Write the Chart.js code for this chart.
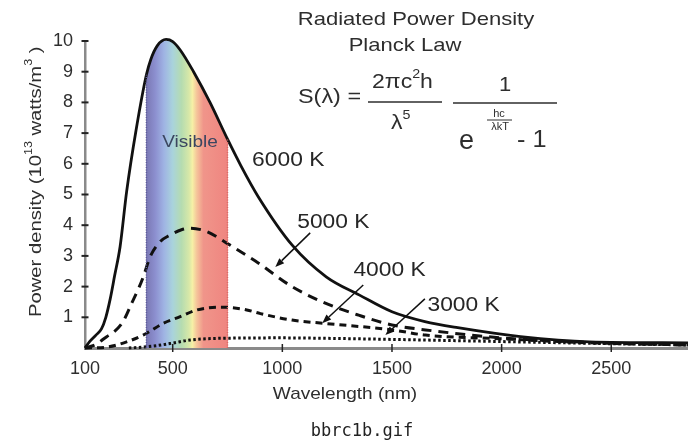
<!DOCTYPE html>
<html>
<head>
<meta charset="utf-8">
<script src="https://cdn.jsdelivr.net/npm/chart.js@4.4.1/dist/chart.umd.min.js"></script>
<style>
  html, body { margin: 0; padding: 0; background: #fff; }
  #wrap { width: 688px; height: 448px; }
</style>
</head>
<body>
<div id="wrap"><canvas id="chart" width="688" height="448"></canvas></div>
<script>
// Wavelength (nm) / power density (10^13 W/m^3)
const wl6000 = [100, 120, 150, 175, 195, 215, 235, 260, 290, 333, 380, 400, 430, 470, 500, 535, 595, 670, 750, 810, 890, 1045, 1200, 1350, 1500, 1650, 1800, 2086, 2400, 2850];
const pw6000 = [0, 0.2, 0.42, 0.62, 1.0, 1.6, 2.35, 3.3, 5.1, 7.1, 8.9, 9.4, 9.85, 10.05, 9.98, 9.7, 9.0, 8.0, 6.8, 5.95, 4.93, 3.35, 2.32, 1.73, 1.18, 0.86, 0.66, 0.37, 0.2, 0.17];

const wl5000 = [100, 150, 199, 228, 275, 313, 345, 366, 397, 442, 488, 540, 580, 656, 750, 840, 890, 1044, 1196, 1348, 1500, 1653, 2000, 2400, 2850];
const pw5000 = [0, 0.12, 0.37, 0.5, 0.88, 1.46, 1.95, 2.32, 2.97, 3.46, 3.68, 3.85, 3.9, 3.79, 3.4, 3.0, 2.77, 2.0, 1.46, 1.07, 0.75, 0.59, 0.33, 0.18, 0.1];

const wl4000 = [100, 200, 290, 365, 397, 456, 534, 610, 716, 760, 838, 900, 1044, 1196, 1500, 1653, 2000, 2400, 2850];
const pw4000 = [0, 0.03, 0.2, 0.42, 0.55, 0.8, 1.02, 1.24, 1.33, 1.32, 1.24, 1.12, 0.91, 0.8, 0.59, 0.42, 0.3, 0.17, 0.1];

const wl3000 = [300, 382, 450, 500, 580, 750, 1000, 1250, 1500, 2000, 2500, 2850];
const pw3000 = [0, 0.04, 0.1, 0.16, 0.26, 0.32, 0.33, 0.31, 0.28, 0.21, 0.14, 0.1];

const xTicks = [100, 500, 1000, 1500, 2000, 2500];
const yTicks = [1, 2, 3, 4, 5, 6, 7, 8, 9, 10];
const visibleRange = [380, 750];

const spectrumNm = [380, 420, 460, 500, 540, 575, 590, 610, 640, 750];
const spectrumColors = ['#7a78b4', '#8c8fcf', '#9fb3e3', '#a9d3dc', '#b5dcb0', '#d8e8a8', '#f6f0a6', '#f5c49a', '#f0958a', '#ef8580'];

const notes = [
  { text: '6000 K', x: 862, y: 6.12 },
  { text: '5000 K', x: 1068, y: 4.1, from: [1127, 3.75], to: [968, 2.64] },
  { text: '4000 K', x: 1324, y: 2.54, from: [1369, 2.05], to: [1182, 0.81] },
  { text: '3000 K', x: 1662, y: 1.40, from: [1650, 1.6], to: [1470, 0.42] },
];

const FONT = '"Liberation Sans", Arial, sans-serif';
const INK = '#2e2e2e';

const pts = (xs, ys) => xs.map((x, i) => ({ x, y: ys[i] }));

function spectrumFill(ctx) {
  const chart = ctx.chart;
  const area = chart.chartArea;
  if (!area) return 'transparent';
  const xs = chart.scales.x;
  const w = area.right - area.left;
  const pos = nm => (xs.getPixelForValue(nm) - area.left) / w;
  const g = chart.ctx.createLinearGradient(area.left, 0, area.right, 0);
  const p0 = pos(visibleRange[0]), p1 = pos(visibleRange[1]);
  g.addColorStop(0, 'rgba(255,255,255,0)');
  g.addColorStop(p0, 'rgba(255,255,255,0)');
  spectrumNm.forEach((nm, i) => g.addColorStop(pos(nm), spectrumColors[i]));
  g.addColorStop(Math.min(1, p1 + 0.0001), 'rgba(255,255,255,0)');
  g.addColorStop(1, 'rgba(255,255,255,0)');
  return g;
}

function text(ctx, s, x, y, size, opts = {}) {
  ctx.save();
  ctx.font = `${size}px ${opts.family || FONT}`;
  ctx.fillStyle = opts.color || INK;
  ctx.textBaseline = 'middle';
  const w = ctx.measureText(s).width * (opts.sx || 1);
  const left = opts.align === 'center' ? x - w / 2 : x;
  ctx.translate(left, y);
  ctx.scale(opts.sx || 1, 1);
  ctx.fillText(s, 0, 0);
  ctx.restore();
}

function hline(ctx, x1, x2, y, w) {
  ctx.save();
  ctx.strokeStyle = INK;
  ctx.lineWidth = w;
  ctx.beginPath();
  ctx.moveTo(x1, y);
  ctx.lineTo(x2, y);
  ctx.stroke();
  ctx.restore();
}

function arrow(ctx, x1, y1, x2, y2) {
  const a = Math.atan2(y2 - y1, x2 - x1);
  const L = 9, H = 3.5;
  ctx.save();
  ctx.strokeStyle = '#111';
  ctx.fillStyle = '#111';
  ctx.lineWidth = 1.5;
  ctx.beginPath();
  ctx.moveTo(x1, y1);
  ctx.lineTo(x2 - L * Math.cos(a), y2 - L * Math.sin(a));
  ctx.stroke();
  ctx.beginPath();
  ctx.moveTo(x2, y2);
  ctx.lineTo(x2 - L * Math.cos(a) + H * Math.sin(a), y2 - L * Math.sin(a) - H * Math.cos(a));
  ctx.lineTo(x2 - L * Math.cos(a) - H * Math.sin(a), y2 - L * Math.sin(a) + H * Math.cos(a));
  ctx.closePath();
  ctx.fill();
  ctx.restore();
}

// rich text run: [{t, sup}] drawn left to right from x
function runs(ctx, parts, x, y, size) {
  let cx = x;
  parts.forEach(p => {
    const s = p.sup ? size * 0.62 : size;
    ctx.font = `${s}px ${FONT}`;
    ctx.fillText(p.t, cx, p.sup ? y - size * 0.38 : y);
    cx += ctx.measureText(p.t).width;
  });
  return cx - x;
}

const decor = {
  id: 'decor',
  afterDatasetsDraw(chart) {
    const { ctx, scales: { x, y } } = chart;

    // dotted edges of the visible band
    visibleRange.forEach((nm, i) => {
      const top = pw6000[wl6000.indexOf(nm)];
      ctx.save();
      ctx.strokeStyle = i === 0 ? '#5e5c98' : '#d76a66';
      ctx.lineWidth = 1.5;
      ctx.setLineDash([1, 1.5]);
      ctx.beginPath();
      ctx.moveTo(x.getPixelForValue(nm), y.getPixelForValue(0));
      ctx.lineTo(x.getPixelForValue(nm), y.getPixelForValue(top));
      ctx.stroke();
      ctx.restore();
    });

    text(ctx, 'Visible', x.getPixelForValue(579), y.getPixelForValue(6.71), 17, { align: 'center', color: '#3b4660', sx: 1.12 });

    notes.forEach(n => {
      text(ctx, n.text, x.getPixelForValue(n.x), y.getPixelForValue(n.y), 20, { color: '#262626', sx: 1.14 });
      if (n.from) {
        arrow(ctx, x.getPixelForValue(n.from[0]), y.getPixelForValue(n.from[1]),
          x.getPixelForValue(n.to[0]), y.getPixelForValue(n.to[1]));
      }
    });

    // tick marks crossing the axes
    ctx.save();
    ctx.strokeStyle = '#222';
    ctx.lineWidth = 2;
    const x0 = x.getPixelForValue(x.min), y0 = y.getPixelForValue(0);
    yTicks.forEach(v => {
      const py = y.getPixelForValue(v);
      ctx.beginPath();
      ctx.moveTo(x0 - 3.5, py);
      ctx.lineTo(x0 + 3.5, py);
      ctx.stroke();
    });
    ctx.lineWidth = 1.5;
    xTicks.slice(1).forEach(v => {
      const px = x.getPixelForValue(v);
      ctx.beginPath();
      ctx.moveTo(px, y0 - 4);
      ctx.lineTo(px, y0 + 4);
      ctx.stroke();
    });
    ctx.restore();
  },
  afterDraw(chart) {
    const { ctx } = chart;

    // title
    text(ctx, 'Radiated Power Density', 416, 20, 19, { align: 'center', sx: 1.16 });
    text(ctx, 'Planck Law', 405, 46, 19, { align: 'center', sx: 1.16 });

    // formula
    text(ctx, 'S(\u03bb) =', 298, 97, 20, { sx: 1.17 });
    ctx.save();
    ctx.fillStyle = INK;
    ctx.textBaseline = 'middle';
    ctx.translate(372, 82);
    ctx.scale(1.15, 1);
    runs(ctx, [{ t: '2\u03c0c' }, { t: '2', sup: true }, { t: 'h' }], 0, 0, 20);
    ctx.restore();
    ctx.save();
    ctx.fillStyle = INK;
    ctx.textBaseline = 'middle';
    ctx.translate(391, 123);
    ctx.scale(1.15, 1);
    runs(ctx, [{ t: '\u03bb' }, { t: '5', sup: true }], 0, 0, 20);
    ctx.restore();
    hline(ctx, 368, 442, 102, 1.5);
    hline(ctx, 453, 557, 103, 1.5);
    text(ctx, '1', 505, 85, 20, { align: 'center', sx: 1.1 });
    text(ctx, 'e', 459, 142, 27);
    text(ctx, 'hc', 499, 114, 11, { align: 'center' });
    hline(ctx, 487, 512, 120, 1);
    text(ctx, '\u03bbkT', 500, 127, 11, { align: 'center' });
    text(ctx, '- 1', 517, 141, 23, { sx: 1.1 });

    // axis titles
    text(ctx, 'Wavelength (nm)', 345, 394, 17, { align: 'center', sx: 1.12 });
    ctx.save();
    ctx.translate(36, 317);
    ctx.rotate(-Math.PI / 2);
    ctx.fillStyle = INK;
    ctx.textBaseline = 'middle';
    ctx.scale(1.19, 1);
    runs(ctx, [{ t: 'Power density (10' }, { t: '13', sup: true }, { t: ' watts/m' }, { t: '3', sup: true }, { t: ' )' }], 0, 0, 17);
    ctx.restore();

    // caption
    text(ctx, 'bbrc1b.gif', 362, 432, 17, { align: 'center', family: '"DejaVu Sans Mono", monospace', color: '#222' });
  }
};

const line = (data, dash, width) => ({
  data,
  borderColor: '#111',
  borderWidth: width,
  borderDash: dash,
  pointRadius: 0,
  cubicInterpolationMode: 'monotone',
  fill: false,
  clip: 10,
});

new Chart(document.getElementById('chart'), {
  type: 'line',
  data: {
    datasets: [
      Object.assign(line(pts(wl6000, pw6000), [], 2.8), { label: '6000 K', fill: 'origin', backgroundColor: spectrumFill }),
      line(pts(wl5000, pw5000), [10, 7], 3),
      line(pts(wl4000, pw4000), [7, 5], 3),
      line(pts(wl3000, pw3000), [2.5, 2.5], 3),
    ],
  },
  options: {
    responsive: false,
    animation: false,
    devicePixelRatio: 1,
    layout: { padding: { top: 41, left: 0, right: 0, bottom: 0 } },
    plugins: {
      legend: { display: false },
      tooltip: { enabled: false },
      filler: { drawTime: 'beforeDatasetsDraw' },
    },
    scales: {
      x: {
        type: 'linear',
        min: 100,
        max: 2850,
        afterBuildTicks: s => { s.ticks = xTicks.map(v => ({ value: v })); },
        afterFit: s => { s.height = 100; },
        grid: { display: false, drawTicks: false },
        border: { display: true, color: '#8a8a8a', width: 3 },
        ticks: { autoSkip: false, maxRotation: 0, padding: 10, color: INK, font: { family: FONT, size: 18 }, callback: v => String(v) },
      },
      y: {
        type: 'linear',
        min: 0,
        max: 10,
        afterBuildTicks: s => { s.ticks = yTicks.map(v => ({ value: v })); },
        afterFit: s => { s.width = 85; },
        grid: { display: false, drawTicks: false },
        border: { display: true, color: '#8a8a8a', width: 2.5 },
        ticks: { autoSkip: false, padding: 12, color: INK, font: { family: FONT, size: 18 }, callback: v => String(v) },
      },
    },
  },
  plugins: [decor],
});
</script>
</body>
</html>
